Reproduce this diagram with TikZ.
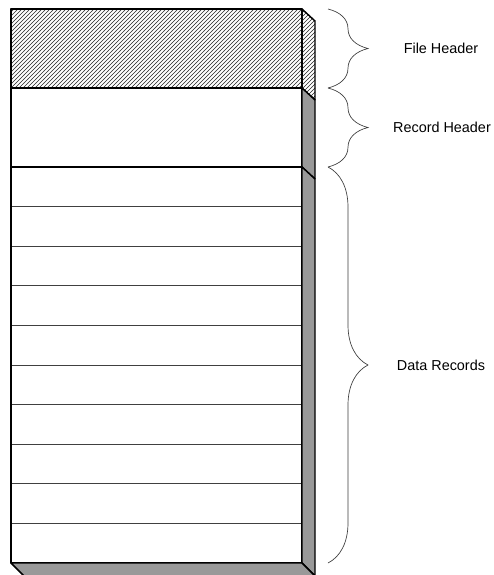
\documentclass[tikz,border=0pt]{standalone}
\usepackage{fontspec}
\setmainfont{Liberation Sans}
\usetikzlibrary{patterns, decorations.pathreplacing, positioning, calc}
\definecolor{sidegray}{RGB}{153,153,153}
\definecolor{bracegray}{RGB}{60,60,60}

\begin{document}
\begin{tikzpicture}[x=0.75pt, y=-0.75pt, font=\fontsize{10.8}{13}\selectfont,
  face/.style={draw, line width=1.1pt, line join=bevel},
  hatchface/.style={face, pattern=north east lines, pattern color=black!85},
  sideface/.style={face, fill=sidegray},
  rowline/.style={draw=black!75, line width=0.6pt},
  hbrace/.style={decorate, decoration={brace, amplitude=30pt}, draw=bracegray, line width=0.5pt},
  lbl/.style={anchor=center}]
\useasboundingbox (0,0) rectangle (493,575);

% front corners of the stack
\coordinate (ftop) at (11,9);
\coordinate (fhbot) at (11,88);
\coordinate (rhbot) at (11,167);
\coordinate (fbot) at (11,563);

% file header (hatched front and side)
\path[hatchface] (ftop) rectangle (302,88);
\path[hatchface] (302,9) -- (315,21) -- (315,100) -- (302,88) -- cycle;

% record header
\path[face, fill=white] (fhbot) rectangle (302,167);
\path[sideface] (302,88) -- (315,100) -- (315,179) -- (302,167) -- cycle;

% data records
\path[face, fill=white] (rhbot) rectangle (302,563);
\foreach \k in {1,...,9}
  \draw[rowline] (12,167+39.6*\k) -- (301,167+39.6*\k);
\path[sideface] (302,167) -- (315,179) -- (315,576) -- (302,563) -- cycle;
\path[sideface] (fbot) -- (302,563) -- (315,576) -- (24,576) -- cycle;

% braces
\coordinate (b0) at (328,9);
\coordinate (b1) at (328,88);
\coordinate (b2) at (328,167);
\coordinate (b3) at (328,563);
\draw[hbrace] (b0) -- (b1);
\draw[hbrace] (b1) -- (b2);
\draw[hbrace] (b2) -- (b3);

% labels
\node[lbl] (fhlbl) at (441,48) {File Header};
\node[lbl] (rhlbl) at (442,127) {Record Header};
\node[lbl] (drlbl) at (441,365) {Data Records};
\end{tikzpicture}
\end{document}
